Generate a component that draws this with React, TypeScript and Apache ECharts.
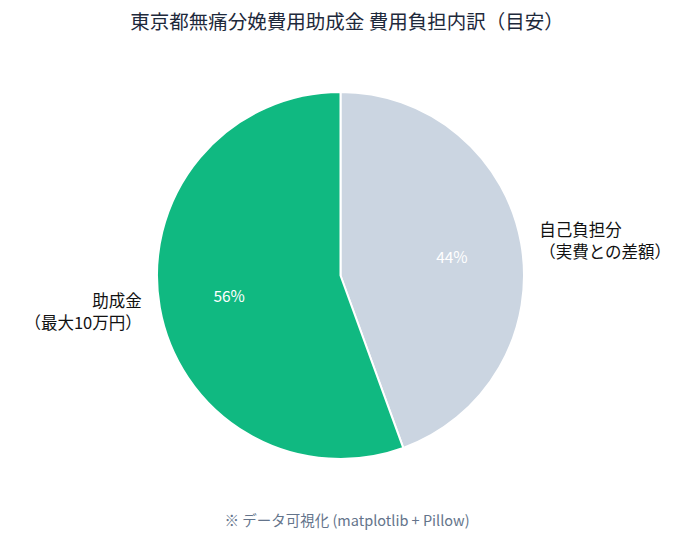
import React, { useEffect, useRef } from "react";
import * as echarts from "echarts";

const categories = ["自己負担分\n（実費との差額）", "助成金\n（最大10万円）"];
const amounts = [80000, 100000];
const colors = ["#cbd5e1", "#10b981"];
const titleText = "東京都無痛分娩費用助成金 費用負担内訳（目安）";
const footerText = "※ データ可視化 (matplotlib + Pillow)";

const FONT = '"Noto Sans CJK JP", "Noto Sans", sans-serif';

export default function App() {
  const ref = useRef<HTMLDivElement>(null);
  useEffect(() => {
    if (!ref.current) return;
    const chart = echarts.init(ref.current, null, { renderer: "svg" });
    const R = 183.5;
    const cx = 340.5;
    const cy = 275.5;
    const data = categories.map((name, i) => ({
      name,
      value: amounts[i],
      itemStyle: { color: colors[i] },
    }));
    chart.setOption({
      animation: false,
      backgroundColor: "#ffffff",
      textStyle: { fontFamily: FONT },
      title: {
        text: titleText,
        left: "center",
        top: 6,
        textStyle: { fontFamily: FONT, fontSize: 19.5, fontWeight: "normal", color: "#1e293b" },
      },
      graphic: [
        {
          type: "text",
          left: "center",
          top: 512,
          style: { text: footerText, fontFamily: FONT, fontSize: 14.5, fill: "#64748b" },
        },
      ],
      series: [
        {
          type: "pie",
          center: [cx, cy],
          radius: [0, R],
          startAngle: 90,
          clockwise: true,
          avoidLabelOverlap: false,
          itemStyle: { borderColor: "#ffffff", borderWidth: 2 },
          label: {
            show: true,
            position: "outside",
            formatter: "{b}",
            fontFamily: FONT,
            fontSize: 16.5,
            color: "#111111",
            lineHeight: 22,
            distanceToLabelLine: 0,
          },
          labelLine: { show: false, length: R * 0.1, length2: 0 },
          emphasis: { disabled: true },
          data,
        },
        {
          type: "pie",
          center: [cx, cy],
          radius: [R * 0.4, R * 0.8],
          startAngle: 90,
          clockwise: true,
          silent: true,
          itemStyle: { color: "rgba(0,0,0,0)", borderWidth: 0 },
          label: {
            show: true,
            position: "inside",
            formatter: (p: any) => `${Math.round(p.percent)}%`,
            fontFamily: FONT,
            fontSize: 15.5,
            color: "#ffffff",
          },
          labelLine: { show: false },
          emphasis: { disabled: true },
          data: categories.map((name, i) => ({ name, value: amounts[i] })),
        },
      ],
    });
    return () => chart.dispose();
  }, []);
  return (
    <div
      ref={ref}
      style={{ position: "fixed", left: 0, top: 0, width: 694, height: 538, background: "#fff" }}
    />
  );
}
